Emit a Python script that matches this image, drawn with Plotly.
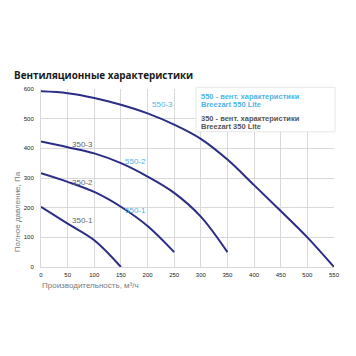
import plotly.graph_objects as go

# Data
flow_a = [0, 50, 100, 150, 200, 250, 300, 350, 400, 450, 500, 550]
pres_a = [592, 586, 570, 547, 518, 480, 432, 362, 276, 189, 100, 0]   # 550-3
flow_b = [0, 50, 100, 150, 200, 250, 300, 350]
pres_b = [423, 404, 383, 350, 305, 250, 170, 50]                       # 350-3 / 550-2
flow_c = [0, 50, 100, 150, 200, 250]
pres_c = [316, 287, 253, 203, 138, 50]                                 # 350-2 / 550-1
flow_d = [0, 50, 100, 150]
pres_d = [203, 146, 90, 0]                                             # 350-1

label_text = ["550-3", "350-3", "550-2", "350-2", "550-1", "350-1"]
label_x = [229, 78, 178, 78, 178, 78]
label_y = [549, 414, 354, 285, 191, 158]
label_is550 = [True, False, True, False, True, False]

x_ticks = list(range(0, 551, 50))
y_ticks = list(range(0, 601, 100))

title = "Вентиляционные характеристики"
legend_lines = ["550 - вент. характеристики", "Breezart 550 Lite",
                "350 - вент. характеристики", "Breezart 350 Lite"]

LINE = "#2b2c86"
BLUE = "#4fb4e3"
GRAY = "#666666"

# screen-pixel helpers (page body has an 8px margin; plot area on screen: x 41..334, y 88.7..266.7)
PX0, PY0, PW, PH = 41.0, 266.7, 293.0, 178.0
def px(sx):
    return (sx - PX0) / PW
def py(sy):
    return (PY0 - sy) / PH

fig = go.Figure()
for fx, fy in [(flow_a, pres_a), (flow_b, pres_b), (flow_c, pres_c), (flow_d, pres_d)]:
    fig.add_trace(go.Scatter(x=fx, y=fy, mode="lines",
                             line=dict(color=LINE, width=2, shape="spline", smoothing=1),
                             cliponaxis=False, showlegend=False, hoverinfo="skip"))

for t, x, y, is550 in zip(label_text, label_x, label_y, label_is550):
    fig.add_annotation(x=x, y=y, text=t, showarrow=False,
                       font=dict(family="Liberation Sans, Arial", size=8,
                                 color=BLUE if is550 else GRAY))

# legend box
fig.add_shape(type="rect", xref="paper", yref="paper",
              x0=px(196), x1=px(335), y0=py(131.5), y1=py(87),
              fillcolor="white", line=dict(color="#e6e6e6", width=1), layer="above")
leg_y = [95.7, 104.3, 117.7, 125.7]
for i, (txt, yy) in enumerate(zip(legend_lines, leg_y)):
    fig.add_annotation(xref="paper", yref="paper", x=px(199), y=py(yy),
                       xanchor="left", yanchor="middle",
                       text="<b>" + txt + "</b>", showarrow=False,
                       font=dict(family="Liberation Sans, Arial", size=7.5,
                                 color=BLUE if i < 2 else "#555555"))

# title
fig.add_annotation(xref="paper", yref="paper", x=px(12), y=py(74.5),
                   xanchor="left", yanchor="middle", showarrow=False,
                   text="<b>" + title + "</b>",
                   font=dict(family="Open Sans", size=9.9, color="#1a1a1a"))
# axis titles
fig.add_annotation(xref="paper", yref="paper", x=px(17), y=py(212),
                   xanchor="center", yanchor="middle", showarrow=False, textangle=-90,
                   text="Полное давление, Па",
                   font=dict(family="Liberation Sans, Arial", size=8, color="#7a7a7a"))
fig.add_annotation(xref="paper", yref="paper", x=px(40), y=py(285),
                   xanchor="left", yanchor="middle", showarrow=False,
                   text="Производительность, м³/ч",
                   font=dict(family="Liberation Sans, Arial", size=8, color="#7a7a7a"))

fig.update_xaxes(range=[0, 550], tickvals=x_ticks, showgrid=True, gridcolor="#d9d9d9",
                 gridwidth=1, zeroline=False, showline=True, linecolor="#d9d9d9",
                 ticks="", tickfont=dict(family="Liberation Sans, Arial", size=6, color="#222222"),
                 ticklabelstandoff=2, fixedrange=True, automargin=False)
fig.update_yaxes(range=[0, 600], tickvals=y_ticks, showgrid=True, gridcolor="#d9d9d9",
                 gridwidth=1, zeroline=False, showline=True, linecolor="#d9d9d9",
                 ticks="", tickfont=dict(family="Liberation Sans, Arial", size=6, color="#222222"),
                 ticklabelstandoff=5, fixedrange=True, automargin=False)
fig.update_layout(width=348, height=348, margin=dict(l=33, r=22, t=81, b=89),
                  paper_bgcolor="white", plot_bgcolor="white", showlegend=False)
fig.write_html("out.html")
